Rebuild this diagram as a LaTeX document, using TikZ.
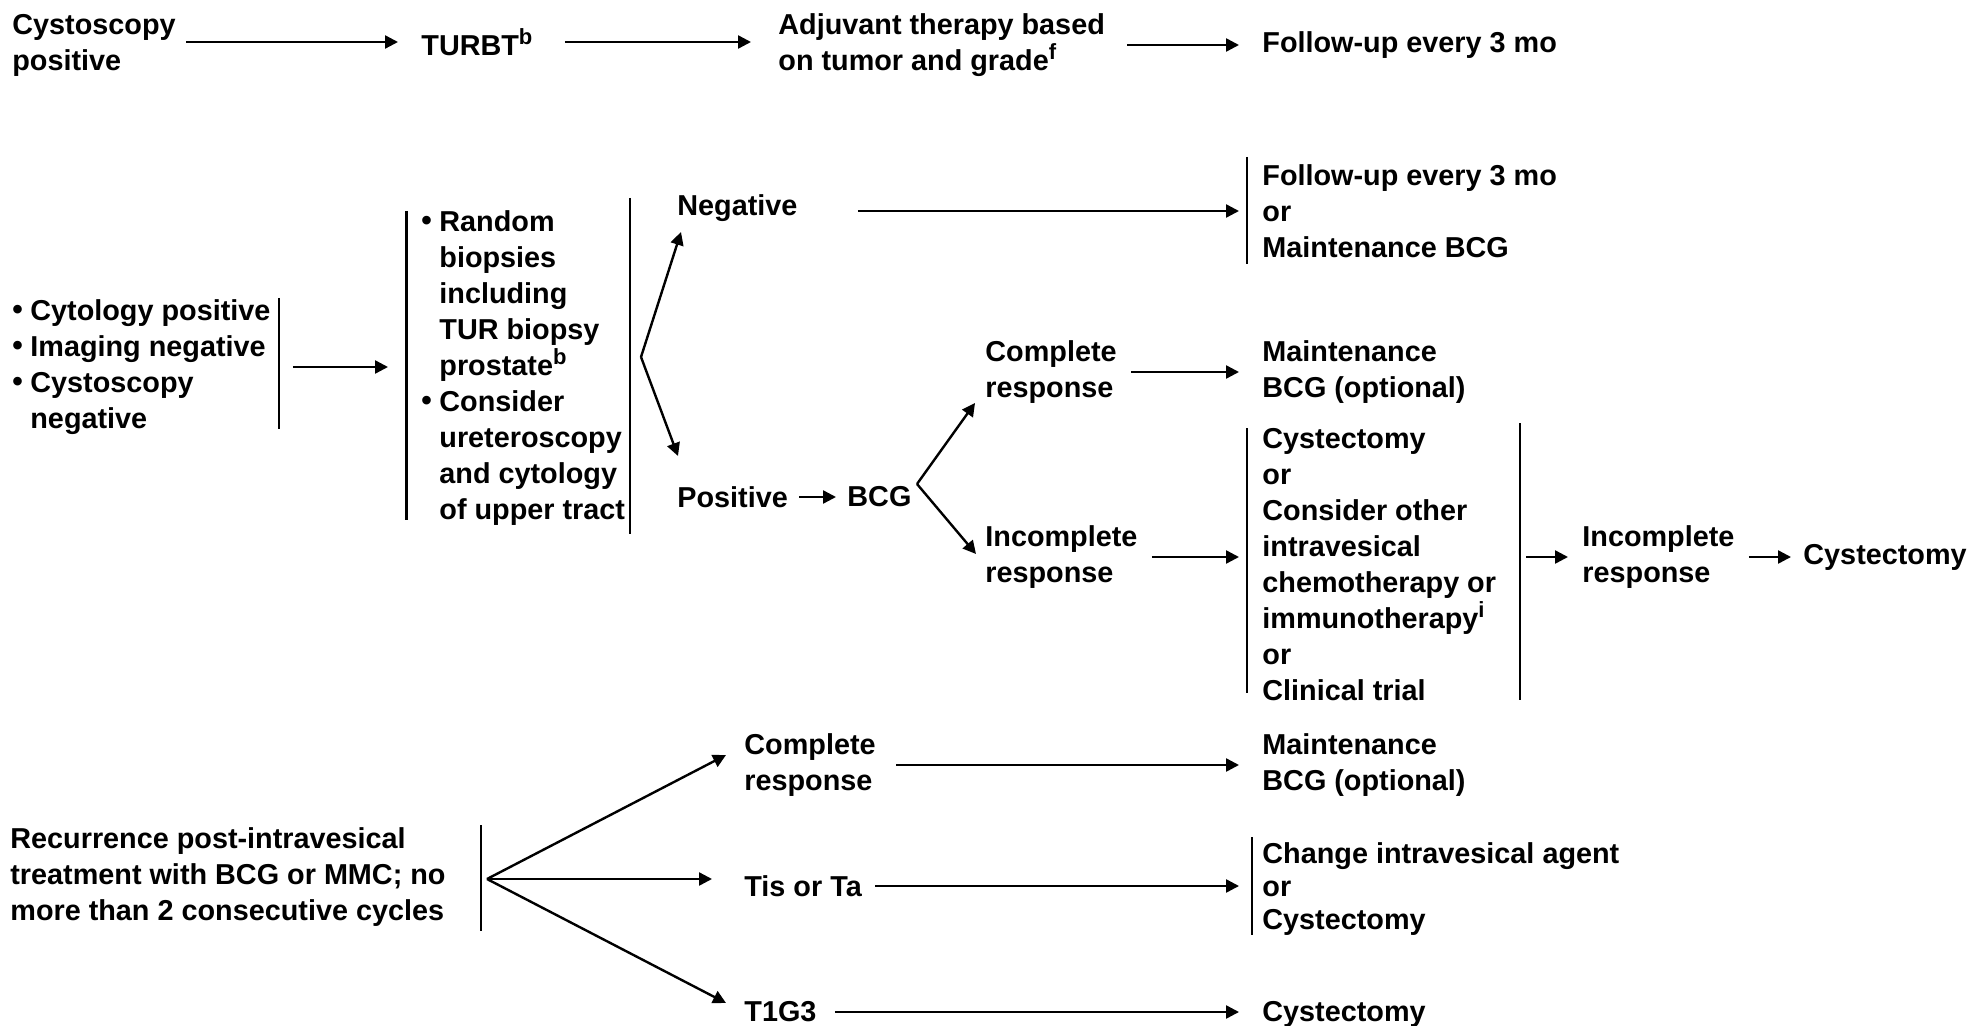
\documentclass[tikz,border=0pt]{standalone}
\usepackage{fontspec}
\setmainfont{Liberation Sans}
\usetikzlibrary{arrows.meta}

% raised footnote letter
\newcommand\supx[1]{\raisebox{5.5pt}{\fontsize{11}{11}\selectfont #1}}
% bullet with a fixed-width box, and the matching hanging indent
\newcommand\bul{\makebox[9pt][l]{\raisebox{0.3pt}{\fontsize{15}{15}\selectfont •}}}
\newcommand\hang{\hspace*{9pt}}

\begin{document}
\begin{tikzpicture}[x=0.5pt,y=-0.5pt,
  txt/.style={inner sep=0pt, anchor=west, align=left,
              font=\fontsize{14.4}{18}\selectfont\bfseries},
  arr/.style={line width=1.2pt, -{Triangle[length=6.5pt,width=6.5pt]}},
  bar/.style={line width=1.2pt}]
\fill[white] (0,0) rectangle (1973,1026);
\useasboundingbox (0,0) rectangle (1973,1026);

% ---------- cystoscopy positive ----------
\node[txt] (cp)    at (12,45)   {Cystoscopy\\positive};
\node[txt] (turbt) at (421,42)  {TURBT\supx{b}};
\node[txt] (adj)   at (778,45)  {Adjuvant therapy based\\on tumor and grade\supx{f}};
\node[txt] (fu1)   at (1262,45) {Follow-up every 3 mo};

\draw[arr, shorten <=5pt, shorten >=11.5pt] (turbt.west -| cp.east) -- (turbt.west);
\draw[arr, shorten <=16pt, shorten >=13.5pt] (turbt.east) -- (turbt.east -| adj.west);
\draw[arr, shorten <=11pt, shorten >=11.5pt] (fu1.west -| adj.east) -- (fu1.west);

% ---------- cytology positive, imaging and cystoscopy negative ----------
\node[txt] (crit) at (12,367)
  {\bul Cytology positive\\\bul Imaging negative\\\bul Cystoscopy\\\hang negative};
\draw[bar] (279,298) -- (279,429);

\node[txt] (rb) at (421,368)
  {\bul Random\\\hang biopsies\\\hang including\\\hang TUR biopsy\\\hang prostate\supx{b}\\
   \bul Consider\\\hang ureteroscopy\\\hang and cytology\\\hang of upper tract};
\draw[bar] (406.5,211) -- (406.5,520);
\draw[bar] (630,198) -- (630,534);

\draw[arr, shorten <=11pt, shorten >=16.5pt] (crit.east) -- (crit.east -| rb.west);

\coordinate (v1) at (641,357);
\node[txt] (neg) at (677,208) {Negative};
\node[txt] (pos) at (677,497) {Positive};
\draw[arr] (v1) -- ([shift={(2pt,-12pt)}]neg.west);
\draw[arr] (v1) -- ([shift={(0.5pt,20.5pt)}]pos.west);

\node[txt] (fu2) at (1262,211) {Follow-up every 3 mo\\or\\Maintenance BCG};
\draw[bar] (1247,157) -- (1247,264);
\draw[arr, shorten <=30pt, shorten >=11.5pt] (fu2.west -| neg.east) -- (fu2.west);

\node[txt] (bcg) at (847,497) {BCG};
\draw[arr, shorten <=5.5pt, shorten >=5.5pt] (pos) -- (bcg);

\coordinate (v2) at (917,484);
\node[txt] (cr1) at (985,372) {Complete\\response};
\node[txt] (ir1) at (985,557) {Incomplete\\response};
\draw[arr] (v2) -- ([shift={(-5pt,-15.5pt)}]cr1.west);
\draw[arr] (v2) -- ([shift={(-4.5pt,1.5pt)}]ir1.west);

\node[txt] (mb1) at (1262,372) {Maintenance\\BCG (optional)};
\draw[arr, shorten <=7pt, shorten >=11.5pt] (cr1) -- (mb1);

\node[txt] (opts) at (1262,565)
  {Cystectomy\\or\\Consider other\\intravesical\\chemotherapy or\\immunotherapy\supx{i}\\or\\Clinical trial};
\draw[bar] (1247,428) -- (1247,693);
\draw[bar] (1520,423) -- (1520,700);
\draw[arr, shorten <=7pt, shorten >=11.5pt] (ir1.east) -- (ir1.east -| opts.west);

\node[txt] (ir2)  at (1582,557) {Incomplete\\response};
\node[txt] (cys1) at (1803,557) {Cystectomy};
\draw[arr, shorten <=15pt, shorten >=7pt] (ir2.west -| opts.east) -- (ir2.west);
\draw[arr, shorten <=7pt, shorten >=6pt] (ir2) -- (cys1);

% ---------- recurrence after intravesical treatment ----------
\node[txt] (rec) at (10,877)
  {Recurrence post-intravesical\\treatment with BCG or MMC; no\\more than 2 consecutive cycles};
\draw[bar] (481,825) -- (481,931);

\coordinate (v3) at (487,879);
\node[txt] (cr2) at (744,765)  {Complete\\response};
\node[txt] (tis) at (744,886)  {Tis or Ta};
\node[txt] (t1)  at (744,1012) {T1G3};
\draw[arr] (v3) -- ([shift={(-9pt,5pt)}]cr2.west);
\draw[arr, shorten >=16pt] (v3) -- (v3 -| tis.west);
\draw[arr] (v3) -- ([shift={(-9pt,4.5pt)}]t1.west);

\node[txt] (mb2) at (1262,765) {Maintenance\\BCG (optional)};
\draw[arr, shorten <=10pt, shorten >=11.5pt] (cr2) -- (mb2);

\node[txt, font=\fontsize{14.4}{16.5}\selectfont\bfseries] (chg) at (1262,889)
  {Change intravesical agent\\or\\Cystectomy};
\draw[bar] (1252,837) -- (1252,935);
\draw[arr, shorten <=6.5pt, shorten >=11.5pt] (tis.east) -- (tis.east -| chg.west);

\node[txt] (cys2) at (1262,1014) {Cystectomy};
\draw[arr, shorten <=9pt, shorten >=11.5pt] (t1.east) -- (t1.east -| cys2.west);
\end{tikzpicture}
\end{document}
